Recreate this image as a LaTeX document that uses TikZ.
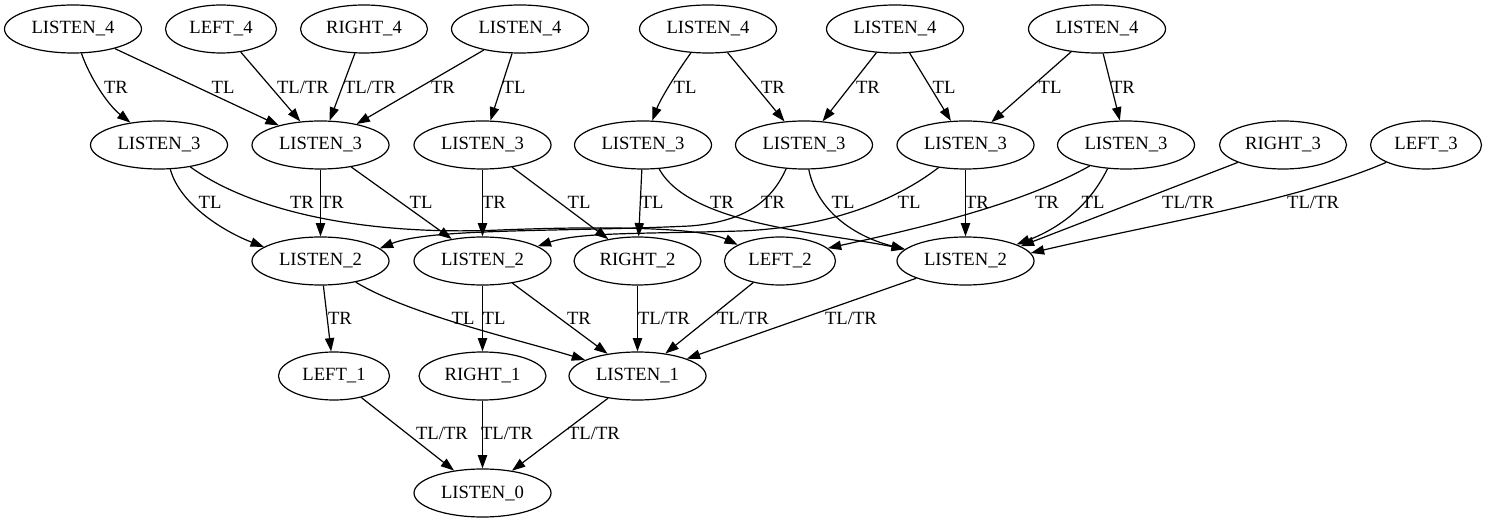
\documentclass[tikz,border=0pt]{standalone}
\usepackage{fontspec}
\setmainfont{Liberation Serif}
\usetikzlibrary{shapes.geometric,arrows.meta}
\begin{document}
\begin{tikzpicture}[x=0.75pt,y=-0.75pt,
  st/.style={ellipse,draw,line width=0.9pt,inner sep=0pt,minimum height=36pt,font=\fontsize{14pt}{16pt}\selectfont},
  lw/.style={st,minimum width=102.75pt},
  lf/.style={st,minimum width=83.25pt},
  rt/.style={st,minimum width=95.25pt},
  e/.style={draw,line width=0.9pt,-{Triangle[length=10pt,width=7pt]}},
  lbl/.style={font=\fontsize{14pt}{16pt}\selectfont,inner sep=0pt}
]
\useasboundingbox (0,0) rectangle (1487,523);
% row 4
\node[lw] (a1) at (73,29) {LISTEN\_4};
\node[lf] (l4) at (221,29) {LEFT\_4};
\node[rt] (r4) at (364,29) {RIGHT\_4};
\node[lw] (a2) at (520,29) {LISTEN\_4};
\node[lw] (a3) at (708,29) {LISTEN\_4};
\node[lw] (a4) at (895,29) {LISTEN\_4};
\node[lw] (a5) at (1097,29) {LISTEN\_4};
% row 3
\node[lw] (b1) at (159,145) {LISTEN\_3};
\node[lw] (b2) at (320.5,145) {LISTEN\_3};
\node[lw] (b3) at (482.5,145) {LISTEN\_3};
\node[lw] (b4) at (643,145) {LISTEN\_3};
\node[lw] (b5) at (804,145) {LISTEN\_3};
\node[lw] (b6) at (965.5,145) {LISTEN\_3};
\node[lw] (b7) at (1126,145) {LISTEN\_3};
\node[rt] (r3) at (1283,145) {RIGHT\_3};
\node[lf] (l3) at (1426,145) {LEFT\_3};
% row 2
\node[lw] (c1) at (320.5,261) {LISTEN\_2};
\node[lw] (c2) at (482.5,261) {LISTEN\_2};
\node[rt] (c3) at (637.5,261) {RIGHT\_2};
\node[lf] (c4) at (780,261) {LEFT\_2};
\node[lw] (c5) at (965.5,261) {LISTEN\_2};
% row 1
\node[lf] (d1) at (334,376) {LEFT\_1};
\node[rt] (d2) at (482.5,376) {RIGHT\_1};
\node[lw] (d3) at (637.5,376) {LISTEN\_1};
% row 0
\node[lw] (e0) at (482.5,493) {LISTEN\_0};

% edges row 4 -> 3
\draw[e] (a1) .. controls (90,78) and (108,105) .. (b1);
\draw[e] (a1) -- (b2);
\draw[e] (l4) -- (b2);
\draw[e] (r4) -- (b2);
\draw[e] (a2) -- (b2);
\draw[e] (a2) -- (b3);
\draw[e] (a3) .. controls (675,75) and (660,100) .. (b4);
\draw[e] (a3) -- (b5);
\draw[e] (a4) -- (b5);
\draw[e] (a4) -- (b6);
\draw[e] (a5) -- (b6);
\draw[e] (a5) -- (b7);
% edges row 3 -> 2
\draw[e] (b1.-65) .. controls (180,205) and (225,232) .. (c1.166);
\draw[e] (b1.-35) .. controls (250,210) and (360,236) .. (500,230) .. controls (600,226) and (700,227) .. (c4.159);
\draw[e] (b2) -- (c1);
\draw[e] (b2) -- (c2);
\draw[e] (b3) -- (c2);
\draw[e] (b3) -- (c3);
\draw[e] (b4) -- (c3);
\draw[e] (b4.-56) .. controls (690,225) and (820,232) .. (c5.169);
\draw[e] (b5.-127) .. controls (770,205) and (740,222) .. (690,226) .. controls (560,232) and (430,228) .. (c1.12);
\draw[e] (b5.-79) .. controls (818,215) and (860,238) .. (c5.169);
\draw[e] (b6.-140) .. controls (890,205) and (820,228) .. (740,231) .. controls (640,234) and (580,232) .. (c2.15);
\draw[e] (b6) -- (c5);
\draw[e] (b7.-150) .. controls (1020,205) and (920,228) .. (c4.15);
\draw[e] (b7.-128) .. controls (1090,205) and (1060,228) .. (c5.18);
\draw[e] (r3) -- (c5.15);
\draw[e] (l3) .. controls (1300,200) and (1150,225) .. (c5.7);
% edges row 2 -> 1
\draw[e] (c1) -- (d1);
\draw[e] (c1.-31) .. controls (410,315) and (520,340) .. (d3.163);
\draw[e] (c2) -- (d2);
\draw[e] (c2) -- (d3);
\draw[e] (c3) -- (d3);
\draw[e] (c4) -- (d3);
\draw[e] (c5) -- (d3);
% edges row 1 -> 0
\draw[e] (d1) -- (e0);
\draw[e] (d2) -- (e0);
\draw[e] (d3) -- (e0);

% labels
\node[lbl] (t1) at (116,87) {TR};
\node[lbl] (t2) at (223,87) {TL};
\node[lbl] (t3) at (303,87) {TL/TR};
\node[lbl] (t4) at (370,87) {TL/TR};
\node[lbl] (t5) at (443,87) {TR};
\node[lbl] (t6) at (514,87) {TL};
\node[lbl] (t7) at (685,87) {TL};
\node[lbl] (t8) at (773,87) {TR};
\node[lbl] (t9) at (868,87) {TR};
\node[lbl] (t10) at (944,87) {TL};
\node[lbl] (t11) at (1050,87) {TL};
\node[lbl] (t12) at (1123,87) {TR};

\node[lbl] (u1) at (210,202) {TL};
\node[lbl] (u2) at (302,202) {TR};
\node[lbl] (u3) at (332,202) {TR};
\node[lbl] (u4) at (421,202) {TL};
\node[lbl] (u5) at (494,202) {TR};
\node[lbl] (u6) at (579,202) {TL};
\node[lbl] (u7) at (652,202) {TL};
\node[lbl] (u8) at (722,202) {TR};
\node[lbl] (u9) at (773,202) {TR};
\node[lbl] (u10) at (843,202) {TL};
\node[lbl] (u11) at (909,202) {TL};
\node[lbl] (u12) at (977,202) {TR};
\node[lbl] (u13) at (1047,202) {TR};
\node[lbl] (u14) at (1093,202) {TL};
\node[lbl] (u15) at (1188,202) {TL/TR};
\node[lbl] (u16) at (1313,202) {TL/TR};

\node[lbl] (v1) at (340,318) {TR};
\node[lbl] (v2) at (463,318) {TL};
\node[lbl] (v3) at (494,318) {TL};
\node[lbl] (v4) at (579,318) {TR};
\node[lbl] (v5) at (664,318) {TL/TR};
\node[lbl] (v6) at (743,318) {TL/TR};
\node[lbl] (v7) at (851,318) {TL/TR};

\node[lbl] (w1) at (442,433) {TL/TR};
\node[lbl] (w2) at (507,433) {TL/TR};
\node[lbl] (w3) at (594,433) {TL/TR};
\end{tikzpicture}
\end{document}
